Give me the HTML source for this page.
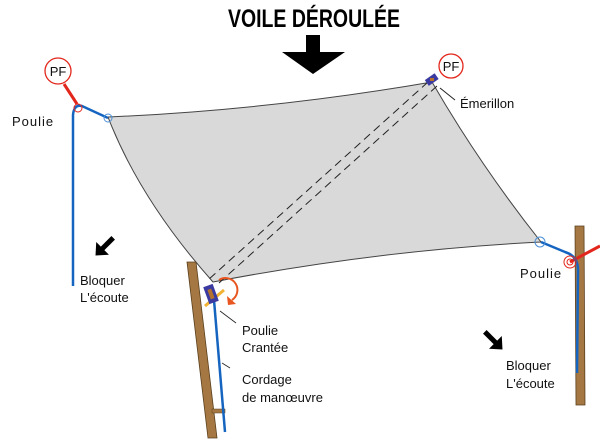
<!DOCTYPE html>
<html><head><meta charset="utf-8"><style>
html,body{margin:0;padding:0;background:#fff;}
svg{display:block;}
text{font-family:"Liberation Sans","DejaVu Sans",sans-serif;font-size:13px;fill:#111;}
</style></head><body>
<svg width="600" height="440" viewBox="0 0 600 440" xmlns="http://www.w3.org/2000/svg">
<text x="228" y="27" textLength="172" lengthAdjust="spacingAndGlyphs" style="font-size:25px;font-weight:bold;fill:#000">VOILE DÉROULÉE</text>
<polygon points="306,35 320,35 320,52 345,52 313,74 282,52 306,52" fill="#000"/>
<path d="M108,117 Q270,110 432,82 Q480,165 541,242 Q380,250 213,282 Q140,200 108,117 Z" fill="#d9d9d9" stroke="#444" stroke-width="1"/>
<line x1="428" y1="82" x2="208" y2="280" stroke="#222" stroke-dasharray="8,5" stroke-width="1"/>
<line x1="437" y1="86" x2="219" y2="283" stroke="#222" stroke-dasharray="8,5" stroke-width="1"/>
<line x1="64" y1="84" x2="77" y2="104" stroke="#e3261b" stroke-width="3"/>
<circle cx="58" cy="71" r="13" fill="#fff" stroke="#e3261b" stroke-width="1.3"/>
<text x="58" y="76" text-anchor="middle" style="font-size:13px">PF</text>
<path d="M73,286 L73,115 Q74,104 82,106 L108,118" fill="none" stroke="#1565c0" stroke-width="2.5"/>
<circle cx="78" cy="108" r="4" fill="none" stroke="#e3261b" stroke-width="1"/>
<circle cx="108" cy="118" r="4" fill="none" stroke="#4a8fd8" stroke-width="1"/>
<text x="12" y="126" style="letter-spacing:1px">Poulie</text>
<line x1="440" y1="88" x2="455" y2="100" stroke="#222" stroke-width="1"/>
<circle cx="451" cy="66" r="12" fill="#fff" stroke="#e3261b" stroke-width="1.3"/>
<text x="451" y="71" text-anchor="middle" style="font-size:13px">PF</text>
<rect x="426" y="76" width="12" height="7" fill="#3a3aa0" transform="rotate(-35 432 80)"/>
<rect x="430" y="78" width="4" height="3" fill="#b5722f"/>
<text x="460" y="108">Émerillon</text>
<polygon points="575,226 584,226 585,405 576,405" fill="#a57843" stroke="#5a3f1c" stroke-width="0.8"/>
<line x1="570" y1="262" x2="600" y2="246" stroke="#e3261b" stroke-width="3"/>
<path d="M541,242 L565,252 Q578,256 578,270 L577,373" fill="none" stroke="#1565c0" stroke-width="2.5"/>
<circle cx="570" cy="262" r="6" fill="none" stroke="#e3261b" stroke-width="1"/>
<circle cx="570" cy="262" r="3" fill="none" stroke="#e3261b" stroke-width="1"/>
<circle cx="540" cy="242" r="5" fill="none" stroke="#4a8fd8" stroke-width="1"/>
<text x="520" y="278" style="letter-spacing:1px">Poulie</text>
<polygon points="187,262 196,262 217,438 208,438" fill="#a57843" stroke="#5a3f1c" stroke-width="0.8"/>
<rect x="212" y="409" width="13" height="4" fill="#a57843" stroke="#5a3f1c" stroke-width="0.5"/>
<line x1="214" y1="300" x2="225" y2="432" stroke="#1565c0" stroke-width="2.5"/>
<line x1="205" y1="306" x2="224" y2="290" stroke="#f2b233" stroke-width="3"/>
<rect x="206" y="285" width="10" height="18" fill="#3a3aa0" transform="rotate(-20 211 294)"/>
<rect x="209" y="289" width="4" height="10" fill="#b5722f" transform="rotate(-20 211 294)"/>
<path d="M219,280 A11,11 0 1 1 232,300" fill="none" stroke="#e8551f" stroke-width="2"/>
<polygon points="227,296 236,304 228,305" fill="#e8551f"/>
<line x1="220" y1="311" x2="236" y2="323" stroke="#222" stroke-width="0.8"/>
<line x1="222" y1="363" x2="230" y2="368" stroke="#222" stroke-width="0.8"/>
<text x="242" y="335">Poulie</text>
<text x="242" y="352">Crantée</text>
<text x="242" y="384">Cordage</text>
<text x="242" y="402">de manœuvre</text>
<g transform="translate(104,247) rotate(45)"><line x1="0" y1="-13" x2="0" y2="3" stroke="#000" stroke-width="5"/><polygon points="-9,2 9,2 0,12" fill="#000"/></g>
<text x="80" y="285">Bloquer</text>
<text x="80" y="302">L'écoute</text>
<g transform="translate(494,341) rotate(-45)"><line x1="0" y1="-13" x2="0" y2="3" stroke="#000" stroke-width="5"/><polygon points="-9,2 9,2 0,12" fill="#000"/></g>
<text x="506" y="370">Bloquer</text>
<text x="506" y="388">L'écoute</text>
</svg>
</body></html>
